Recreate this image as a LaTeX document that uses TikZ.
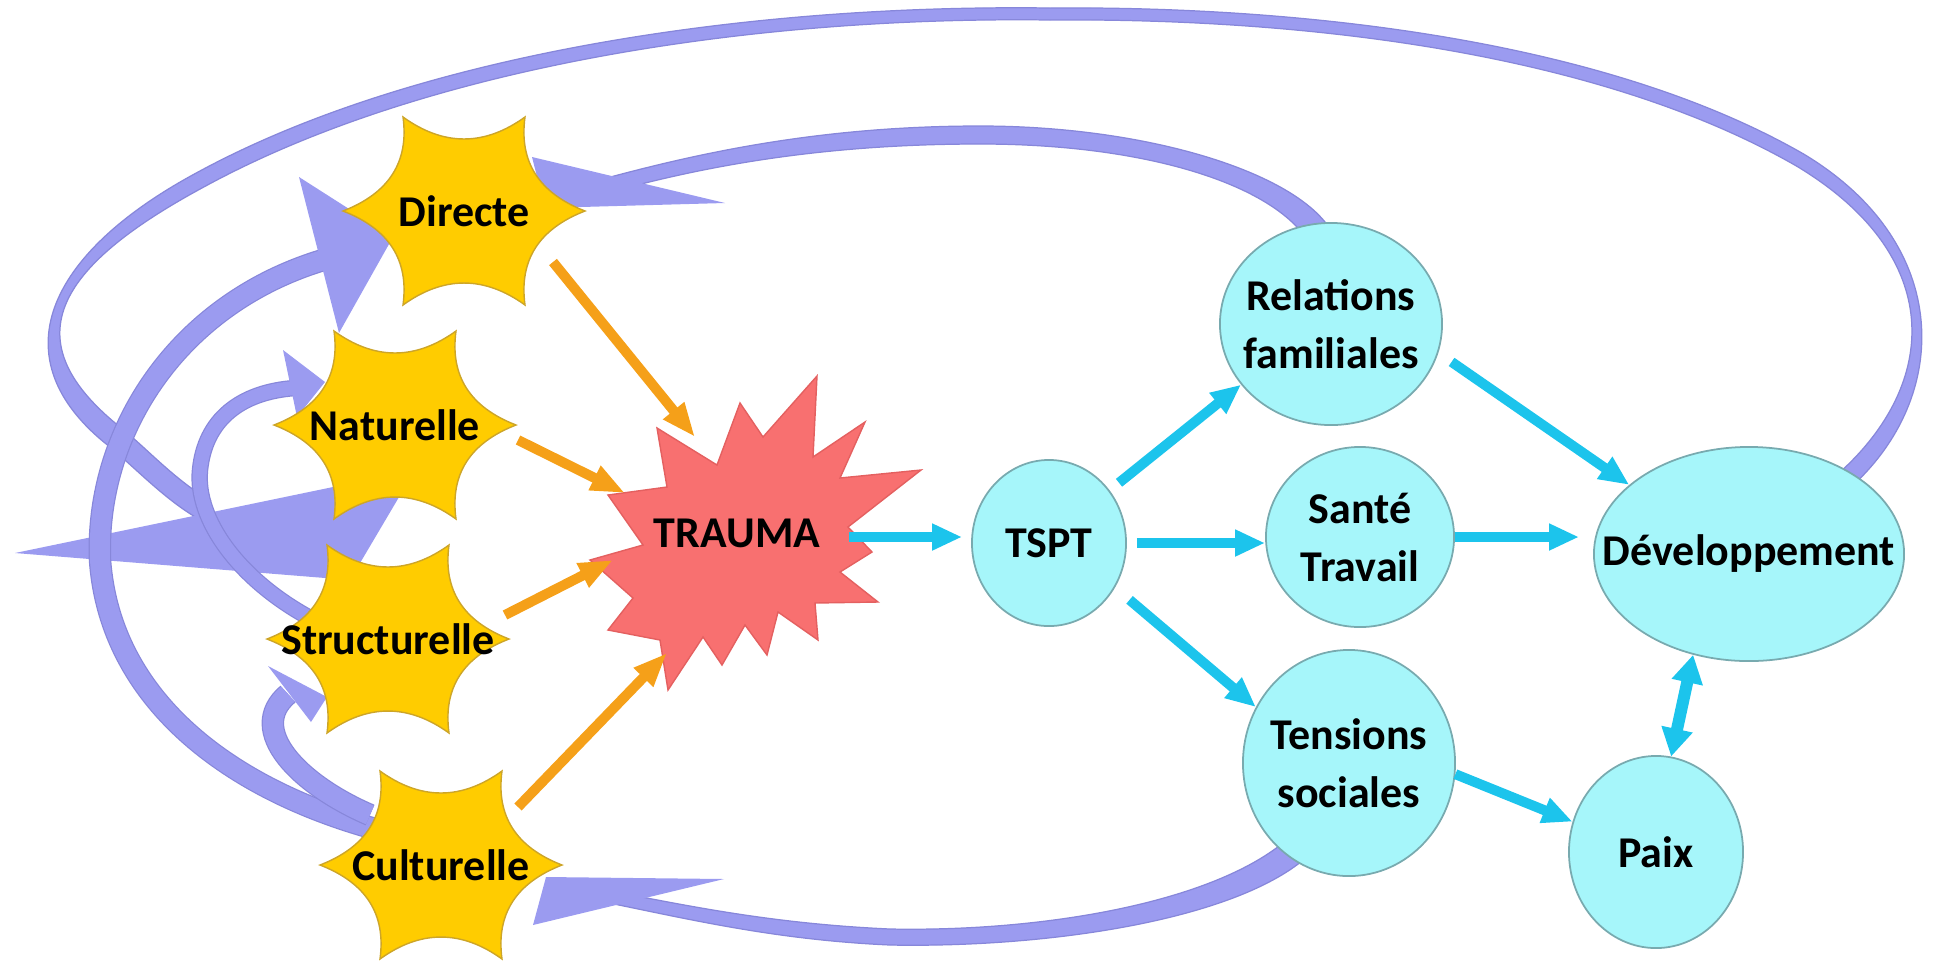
\documentclass[tikz,border=0pt]{standalone}
\usepackage{fontspec}
\setmainfont{Carlito}
\usetikzlibrary{arrows.meta,calc,shapes.geometric}

\definecolor{lav}{RGB}{155,155,240}
\definecolor{lavd}{RGB}{135,135,218}
\definecolor{gold}{RGB}{255,204,0}
\definecolor{goldd}{RGB}{205,165,40}
\definecolor{burst}{RGB}{248,112,112}
\definecolor{burstd}{RGB}{228,96,96}
\definecolor{bub}{RGB}{166,246,250}
\definecolor{bubd}{RGB}{120,170,175}
\definecolor{orng}{RGB}{245,160,25}
\definecolor{cyarrow}{RGB}{28,196,236}

\pgfdeclarelayer{back}
\pgfdeclarelayer{mid}
\pgfsetlayers{back,mid,main}

\tikzset{
  lbl/.style={font=\fontsize{12.5pt}{16.5pt}\selectfont\bfseries, align=center, text=black, inner sep=0pt},
  bubble/.style={ellipse, fill=bub, draw=bubd, line width=0.5pt, inner sep=0pt},
  band/.style={draw=lav, line width=#1, preaction={draw=lavd, line width=#1+0.7pt}},
  bandfill/.style={fill=lav, draw=lavd, line width=0.35pt},
  wedge/.style={fill=lav},
  cyarr/.style={draw=cyarrow, line width=0.10cm, -{Triangle[length=0.30cm,width=0.25cm]}},
  cyboth/.style={draw=cyarrow, line width=0.12cm, {Triangle[length=0.28cm,width=0.30cm]}-{Triangle[length=0.28cm,width=0.30cm]}},
  orarr/.style={draw=orng, line width=0.10cm, -{Triangle[length=0.34cm,width=0.25cm]}},
  gstar/.pic={
    \path[fill=gold, draw=goldd, line width=0.4pt]
      (121,0) .. controls (74.9,17.9) and (54.9,49.2) .. (61,94)
      .. controls (20.3,64.7) and (-20.3,64.7) .. (-61,94)
      .. controls (-54.9,49.2) and (-74.9,17.9) .. (-121,0)
      .. controls (-74.9,-17.9) and (-54.9,-49.2) .. (-61,-94)
      .. controls (-20.3,-64.7) and (20.3,-64.7) .. (61,-94)
      .. controls (54.9,-49.2) and (74.9,-17.9) .. (121,0) -- cycle;
  }
}

\begin{document}
\begin{tikzpicture}[x=0.01cm, y=-0.01cm]
\useasboundingbox (0,0) rectangle (1946,963);

% ---------- outcome bubbles ----------
\node[bubble, minimum width=1.54cm, minimum height=1.66cm, label={[lbl]center:TSPT}] (tspt) at (1049,543) {};
\node[bubble, minimum width=2.22cm, minimum height=2.02cm, label={[lbl]center:Relations\\familiales}] (rel) at (1331,324) {};
\node[bubble, minimum width=1.88cm, minimum height=1.80cm, label={[lbl]center:Santé\\Travail}] (sante) at (1360,537) {};
\node[bubble, minimum width=2.12cm, minimum height=2.26cm, label={[lbl]center:Tensions\\sociales}] (tens) at (1349,763) {};
\node[bubble, minimum width=3.10cm, minimum height=2.14cm, label={[lbl]center:Développement}] (dev) at (1749,554) {};
\node[bubble, minimum width=1.74cm, minimum height=1.92cm, label={[lbl]center:Paix}] (paix) at (1656,852) {};

% ---------- violence stars ----------
\begin{pgfonlayer}{mid}
  \pic at (464,211) {gstar};
  \pic at (395,425) {gstar};
  \pic at (388,639) {gstar};
  \pic at (441,865) {gstar};
  % trauma burst
  \path[fill=burst, draw=burstd, line width=0.4pt]
    (657,428) -- (717,465) -- (740,403) -- (763,437) -- (817,376) -- (813,457)
    -- (865,422) -- (840,478) -- (921,470) -- (848,527) -- (872,552) -- (840,572)
    -- (878,602) -- (815,603) -- (818,640) -- (778,612) -- (767,655) -- (745,625)
    -- (722,665) -- (703,637) -- (668,690) -- (660,640) -- (608,630) -- (633,598)
    -- (590,560) -- (643,545) -- (608,495) -- (667,487) -- cycle;
\end{pgfonlayer}

\node[lbl] (dir) at (464,211) {Directe};
\node[lbl] (nat) at (395,425) {Naturelle};
\node[lbl] (str) at (388,639) {Structurelle};
\node[lbl] (cul) at (441,865) {Culturelle};
\node[lbl] (trauma) at (737,533) {TRAUMA};

% ---------- feedback loops ----------
\begin{pgfonlayer}{back}
  % Développement -> far left (tapered band)
  \path[bandfill]
    ($(dev)+(102,-67)$) .. controls (1951.0,396.7) and (1953.6,244.0) .. (1803.6,154.0)
    .. controls (1603.6,39.0) and (1300,6) .. (1050,8)
    .. controls (750,4) and (416.2,53.0) .. (196.2,173.0)
    .. controls (46.2,254.0) and (-1.8,358.6) .. (108.2,445.6)
    .. controls (135.2,467.6) and (164.5,499.5) .. (199.5,519.5)
    -- (210.5,500.5)
    .. controls (175.5,480.5) and (148.8,450.4) .. (121.8,428.4)
    .. controls (11.8,341.4) and (53.8,268.0) .. (203.8,187.0)
    .. controls (423.8,67.0) and (750,16) .. (1050,20)
    .. controls (1300,18) and (1596.4,51.0) .. (1796.4,166.0)
    .. controls (1946.4,256.0) and (1939.0,383.3) .. ($(dev)+(90,-81)$) -- cycle;
  \fill[wedge] (15,553) -- (415,470) -- (350,580) -- cycle;
  % Relations familiales -> Directe (tapered band)
  \path[bandfill]
    ($(rel)+(2,-90)$) .. controls (1301.4,173.9) and (1150,126) .. (980,126)
    .. controls (820,126) and (698.2,153.2) .. ($(dir)+(139,-32)$)
    -- ($(dir)+(143,-18)$)
    .. controls (701.8,166.8) and (820,144) .. (980,144)
    .. controls (1150,144) and (1278.6,186.1) .. ($(rel)+(-20,-78)$) -- cycle;
  \fill[wedge] (532,157) -- (725,203) -- (545,208) -- cycle;
  % Tensions sociales -> Culturelle (tapered band)
  \path[bandfill]
    ($(tens)+(-40,92)$) .. controls (1238.8,919.5) and (1050,948) .. (890,945)
    .. controls (780,940) and (698.7,921.4) .. ($(cul)+(173,39)$)
    -- ($(cul)+(175,27)$)
    .. controls (701.3,908.6) and (780,924) .. (890,929)
    .. controls (1050,932) and (1221.2,900.5) .. ($(tens)+(-58,73)$) -- cycle;
  \fill[wedge] (546,877) -- (724,879) -- (533,925) -- cycle;
  % Culturelle -> Directe
  \draw[band=0.20cm] ($(cul)+(-62,-35)$) .. controls (230,790) and (110,700) .. (100,560)
    .. controls (95,430) and (180,300) .. ($(dir)+(-134,47)$);
  \fill[wedge] (299,177) -- (393,237) -- (339,333) -- cycle;
  % Structurelle -> Naturelle
  \draw[band=0.14cm] ($(str)+(-78,-21)$) .. controls (240,580) and (195,520) .. (200,470)
    .. controls (205,420) and (240,392) .. ($(nat)+(-100,-37)$);
  \fill[wedge] (283,350) -- (325,382) -- (297,417) -- cycle;
  % Culturelle -> Structurelle
  \draw[band=0.20cm] ($(cul)+(-71,-50)$) .. controls (300,785) and (245,730) .. ($(str)+(-100,55)$);
  \fill[wedge] (268,666) -- (327,697) -- (311,722) -- cycle;
\end{pgfonlayer}

% ---------- violence -> trauma ----------
\draw[orarr] ($(dir)+(89,51)$) -- ($(trauma)+(-42,-96)$);
\draw[orarr] ($(nat)+(123,15)$) -- ($(trauma)+(-112,-40)$);
\draw[orarr] ($(str)+(117,-24)$) -- ($(trauma)+(-124,27)$);
\draw[orarr] ($(cul)+(77,-58)$) -- ($(trauma)+(-70,120)$);

% ---------- consequences ----------
\draw[cyarr] ($(trauma)+(112,4)$) -- ($(tspt.west)+(-9,-6)$);
\draw[cyarr, shorten <=0.12cm] (tspt.41) -- (rel.214);
\draw[cyarr, shorten <=0.10cm] (tspt.east) -- (tspt.east -| sante.west);
\draw[cyarr, shorten <=0.19cm] (tspt.-34) -- (tens.149.5);
\draw[cyarr, shorten <=0.16cm] (rel.-15) -- (dev.150);
\draw[cyarr, shorten >=0.14cm] (sante.east) -- (sante.east -| dev.west);
\draw[cyarr] (tens.-6.5) -- (paix.160.4);
\draw[cyboth] (dev.-119.6) -- (paix.81.8);

\end{tikzpicture}
\end{document}
